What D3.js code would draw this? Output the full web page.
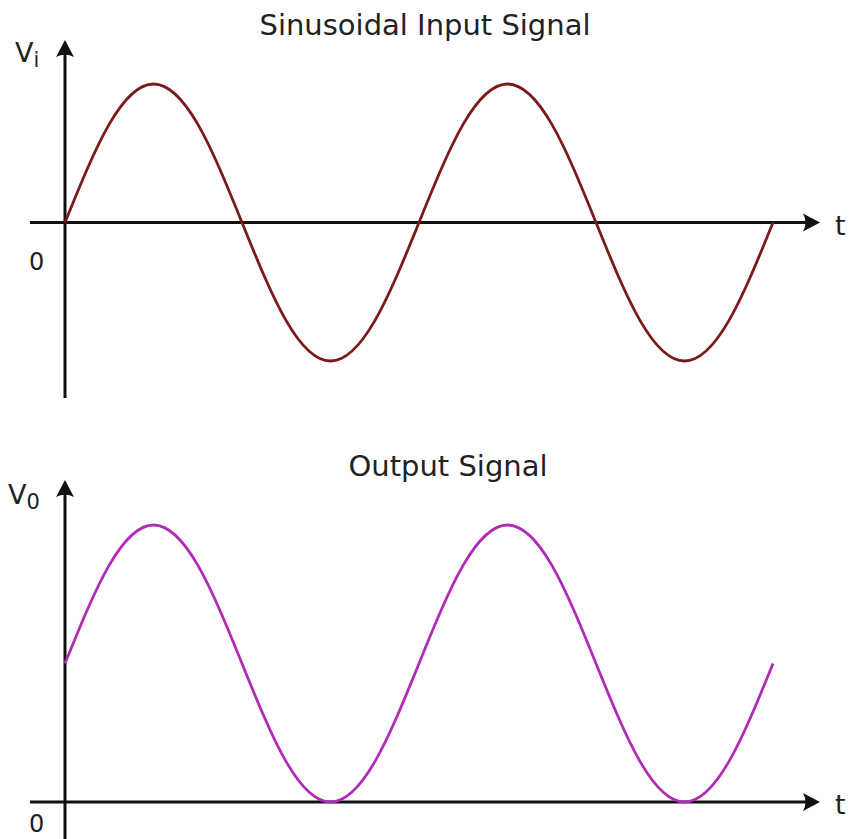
<!DOCTYPE html>
<html lang="en">
<head>
<meta charset="utf-8">
<title>Sinusoidal input / output signal</title>
<script src="https://cdn.jsdelivr.net/npm/d3@7"></script>
<style>
  body { margin: 0; background: #fff; }
  text { font-family: "DejaVu Sans", Verdana, sans-serif; fill: #222; }
</style>
</head>
<body>
<script>
// sample index = eighth of a period, two periods shown
var steps = d3.range(0, 17);
var inputValues  = [0, 0.71, 1, 0.71, 0, -0.71, -1, -0.71, 0, 0.71, 1, 0.71, 0, -0.71, -1, -0.71, 0];
var outputValues = [1, 1.71, 2, 1.71, 1, 0.29, 0, 0.29, 1, 1.71, 2, 1.71, 1, 0.29, 0, 0.29, 1];
var titles = ["Sinusoidal Input Signal", "Output Signal"];

var w = 853, h = 839;

var svg = d3.select("body").append("svg")
  .attr("width", w)
  .attr("height", h);

var xScale = d3.scaleLinear().domain([0, 16]).range([65, 773]);
var yIn  = d3.scaleLinear().domain([-1, 1]).range([361, 84]);
var yOut = d3.scaleLinear().domain([0, 2]).range([802, 525]);

function arrowUp(x, y) {
  return "M" + x + "," + y + " L" + (x - 9) + "," + (y + 17) +
         " Q" + x + "," + (y + 12) + " " + (x + 9) + "," + (y + 17) + " Z";
}
function arrowRight(x, y) {
  return "M" + x + "," + y + " L" + (x - 17) + "," + (y - 9) +
         " Q" + (x - 12) + "," + y + " " + (x - 17) + "," + (y + 9) + " Z";
}

function drawAxes(y0, yTop, yBottom) {
  var g = svg.append("g");
  g.append("line")
    .attr("x1", 65).attr("x2", 65)
    .attr("y1", yBottom).attr("y2", yTop + 10)
    .attr("stroke", "#111").attr("stroke-width", 3);
  g.append("path").attr("d", arrowUp(65, yTop)).attr("fill", "#111");
  g.append("line")
    .attr("x1", 30).attr("x2", 810)
    .attr("y1", y0).attr("y2", y0)
    .attr("stroke", "#111").attr("stroke-width", 3);
  g.append("path").attr("d", arrowRight(820, y0)).attr("fill", "#111");
  g.append("text").attr("x", 835).attr("y", y0 + 12)
    .attr("font-size", 27).text("t");
}

// top panel
drawAxes(yIn(0), 40, 398);
// bottom panel
drawAxes(yOut(0), 480, 839);

var line = function(ys) {
  return d3.line()
    .x(function(d) { return xScale(d); })
    .y(function(d, i) { return ys(i); })
    .curve(d3.curveNatural);
};

svg.append("path")
  .datum(steps)
  .attr("d", line(function(i) { return yIn(inputValues[i]); }))
  .attr("fill", "none")
  .attr("stroke", "#7a1a1a")
  .attr("stroke-width", 2.8);

svg.append("path")
  .datum(steps)
  .attr("d", line(function(i) { return yOut(outputValues[i]); }))
  .attr("fill", "none")
  .attr("stroke", "#b02cb6")
  .attr("stroke-width", 2.8);

// titles
svg.append("text").attr("x", 425).attr("y", 35)
  .attr("text-anchor", "middle").attr("font-size", 29).text(titles[0]);
svg.append("text").attr("x", 448).attr("y", 476)
  .attr("text-anchor", "middle").attr("font-size", 29).text(titles[1]);

// axis labels
var vi = svg.append("text").attr("x", 15).attr("y", 62).attr("font-size", 27);
vi.append("tspan").text("V");
vi.append("tspan").attr("font-size", 21).attr("dy", 5).text("i");

var vo = svg.append("text").attr("x", 8).attr("y", 504).attr("font-size", 27);
vo.append("tspan").text("V");
vo.append("tspan").attr("font-size", 21).attr("dy", 5).text("0");

svg.append("text").attr("x", 29).attr("y", 270).attr("font-size", 24).text("0");
svg.append("text").attr("x", 29).attr("y", 832).attr("font-size", 24).text("0");
</script>
</body>
</html>
